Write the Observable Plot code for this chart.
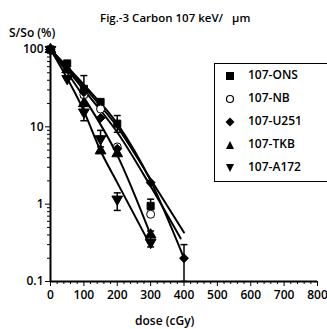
<!DOCTYPE html>
<html><head><meta charset="utf-8">
<script src="https://cdn.jsdelivr.net/npm/d3@7"></script>
<script src="https://cdn.jsdelivr.net/npm/@observablehq/plot@0.6"></script>
<style>
body{margin:0;background:#fff;font-family:"Open Sans",sans-serif;color:#000}
#wrap{position:relative;width:327px;height:329px;overflow:hidden}
.lbl{position:absolute;font-weight:600;white-space:pre;line-height:1}
#legend{position:absolute;left:214px;top:63px;width:115px;height:119px;border:1.5px solid #000;box-sizing:border-box}
.item{position:absolute;left:0;width:110px;height:14px;font-weight:600;font-size:12px;line-height:1;white-space:nowrap}
.item svg{position:absolute;left:10px;top:2px}
.item span{position:absolute;left:33px;top:0}
</style>
</head><body><div id="wrap"></div>
<script>
// ---- data ----
const seriesNames = ["107-ONS", "107-NB", "107-U251", "107-TKB", "107-A172"];
// measured survival points (dose cGy, S/So %)
const onsDose = [0, 50, 100, 150, 200, 300];
const onsVal  = [100, 66, 31, 21, 11, 0.95];
const nbDose  = [0, 100, 150, 200, 300];
const nbVal   = [100, 26, 17, 5.5, 0.74];
const u251Dose = [0, 100, 150, 200, 300, 400];
const u251Val  = [100, 28, 13, 5.2, 1.9, 0.2];
const tkbDose = [0, 50, 100, 150, 200, 300];
const tkbVal  = [100, 55, 20, 4.9, 4.5, 0.4];
const a172Dose = [0, 50, 100, 150, 200, 300];
const a172Val  = [100, 42, 15.5, 7, 1.16, 0.32];
// error bars
const errDose = [100, 100, 150, 200, 200, 300, 300, 400];
const errLow  = [24, 12, 5.5, 0.83, 8.5, 0.85, 0.28, 0.1];
const errHigh = [46, 20, 9, 1.4, 14, 1.16, 0.45, 0.3];
// fitted curves
const fitOnsDose = [0, 100, 200, 300, 400];
const fitOnsVal  = [100, 33, 10, 2.1, 0.43];
const fitNbDose  = [0, 100, 200, 300, 390];
const fitNbVal   = [100, 30, 8.5, 1.7, 0.36];
const fitU251Dose = [0, 100, 200, 300, 400];
const fitU251Val  = [100, 35, 11, 2, 0.2];
const fitTkbDose = [0, 100, 200, 300];
const fitTkbVal  = [100, 24, 4.3, 0.4];
const fitA172Dose = [0, 100, 150, 200, 300];
const fitA172Val  = [100, 16, 4.9, 1.9, 0.29];
// axes
const xTicks = [0, 100, 200, 300, 400, 500, 600, 700, 800];
const xMinor = [20,40,60,80,120,140,160,180,220,240,260,280,320,340,360,380,420,440,460,480,520,540,560,580,620,640,660,680,720,740,760,780];
const yTicks = [100, 10, 1, 0.1];
const yTickLabels = ["100", "10", "1", "0.1"];
const yMinor = [0.2,0.3,0.4,0.5,0.6,0.7,0.8,0.9,2,3,4,5,6,7,8,9,20,30,40,50,60,70,80,90];

// ---- build tables ----
const pts = (name, ds, vs) => ds.map((d, i) => ({series: name, dose: d, value: vs[i]}));
const points = [
  ...pts("107-ONS", onsDose, onsVal),
  ...pts("107-NB", nbDose, nbVal),
  ...pts("107-U251", u251Dose, u251Val),
  ...pts("107-TKB", tkbDose, tkbVal),
  ...pts("107-A172", a172Dose, a172Val)
];
const fits = [
  ...pts("107-ONS", fitOnsDose, fitOnsVal),
  ...pts("107-NB", fitNbDose, fitNbVal),
  ...pts("107-U251", fitU251Dose, fitU251Val),
  ...pts("107-TKB", fitTkbDose, fitTkbVal),
  ...pts("107-A172", fitA172Dose, fitA172Val)
];
const errs = errDose.map((d, i) => ({dose: d, lo: errLow[i], hi: errHigh[i]}));
const errCaps = errs.flatMap(e => [{dose: e.dose, value: e.lo}, {dose: e.dose, value: e.hi}]);

const triDown = {draw(ctx, size) {
  const y = Math.sqrt(size / (Math.sqrt(3) * 3));
  ctx.moveTo(0, y * 2); ctx.lineTo(-Math.sqrt(3) * y, -y); ctx.lineTo(Math.sqrt(3) * y, -y); ctx.closePath();
}};
const cap = {draw(ctx, size) { ctx.moveTo(-3.5, 0); ctx.lineTo(3.5, 0); }};
const symbolOf = {"107-ONS": "square", "107-NB": "circle", "107-U251": "diamond2", "107-TKB": "triangle", "107-A172": triDown};
const fillOf = {"107-ONS": "black", "107-NB": "white", "107-U251": "black", "107-TKB": "black", "107-A172": "black"};

const marks = [
  Plot.axisX({ticks: xTicks, tickSize: 5, tickPadding: 4, label: null, fontSize: 12, tickFormat: d => String(d)}),
  Plot.axisX({ticks: xMinor, tickSize: 3, text: null, label: null}),
  Plot.axisY({ticks: yTicks, tickSize: 5, tickPadding: 2, label: null, fontSize: 12, tickFormat: (d, i) => yTickLabels[yTicks.indexOf(d)]}),
  Plot.axisY({ticks: yMinor, tickSize: 3, text: null, label: null}),
  Plot.ruleY([0.1], {strokeWidth: 2}),
  Plot.ruleX([0], {strokeWidth: 2}),
  Plot.line(fits, {x: "dose", y: "value", z: "series", stroke: "black", strokeWidth: 2, curve: "monotone-x"}),
  Plot.ruleX(errs, {x: "dose", y1: "lo", y2: "hi", stroke: "black", strokeWidth: 1.5}),
  Plot.dot(errCaps, {x: "dose", y: "value", symbol: cap, stroke: "black", strokeWidth: 1.5})
];
for (const name of seriesNames) {
  marks.push(Plot.dot(points.filter(p => p.series === name), {
    x: "dose", y: "value", symbol: symbolOf[name], r: 4,
    fill: fillOf[name], stroke: "black", strokeWidth: 1
  }));
}

const chart = Plot.plot({
  width: 327, height: 329,
  marginLeft: 50, marginRight: 10, marginTop: 49, marginBottom: 48,
  x: {domain: [0, 800]},
  y: {type: "log", domain: [0.1, 100]},
  style: {fontFamily: "'Open Sans', sans-serif", fontWeight: 600, background: "white", color: "black", overflow: "visible"},
  marks
});
const wrap = document.getElementById("wrap");
wrap.appendChild(chart);

function addLabel(text, left, top, size) {
  const d = document.createElement("div");
  d.className = "lbl"; d.textContent = text;
  d.style.left = left + "px"; d.style.top = top + "px"; d.style.fontSize = size + "px";
  wrap.appendChild(d);
  return d;
}
addLabel("Fig.-3 Carbon 107 keV/   \u00b5m", 100, 12, 11.5);
addLabel("S/So (%)", 9, 27, 12);
addLabel("dose (cGy)", 135, 315, 12);

// legend
const legend = document.createElement("div");
legend.id = "legend";
const shapes = {
  "107-ONS": '<rect x="1" y="1" width="8" height="8" fill="#000"/>',
  "107-NB": '<circle cx="5" cy="5" r="3.5" fill="#fff" stroke="#000" stroke-width="1.2"/>',
  "107-U251": '<path d="M5 0.5 L9.5 5 L5 9.5 L0.5 5Z" fill="#000"/>',
  "107-TKB": '<path d="M5 1 L9 9 L1 9Z" fill="#000"/>',
  "107-A172": '<path d="M1 1 L9 1 L5 9Z" fill="#000"/>'
};
seriesNames.forEach((name, i) => {
  const it = document.createElement("div");
  it.className = "item";
  it.style.top = (5 + i * 23) + "px";
  it.innerHTML = '<svg width="10" height="10" viewBox="0 0 10 10">' + shapes[name] + '</svg><span>' + name + '</span>';
  legend.appendChild(it);
});
wrap.appendChild(legend);
</script>
</body></html>
